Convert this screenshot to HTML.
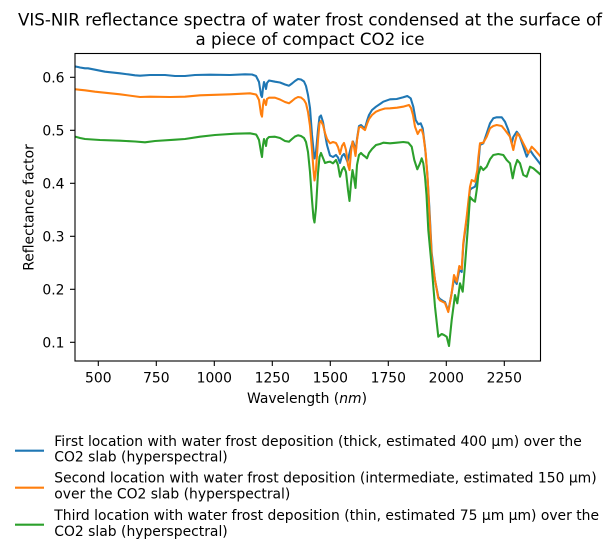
<!DOCTYPE html>
<html>
<head>
<meta charset="utf-8">
<style>
  html, body { margin: 0; padding: 0; background: #ffffff; }
  svg { display: block; }
  text { font-family: "DejaVu Sans", "Liberation Sans", sans-serif; fill: #000; }
</style>
</head>
<body>
<svg width="614" height="555" viewBox="0 0 614 555" xmlns="http://www.w3.org/2000/svg">
  <rect x="0" y="0" width="614" height="555" fill="#ffffff"/>

  <!-- Title -->
  <text x="310" y="25.5" font-size="16.67" text-anchor="middle">VIS-NIR reflectance spectra of water frost condensed at the surface of</text>
  <text x="310" y="45" font-size="16.67" text-anchor="middle">a piece of compact CO2 ice</text>

  <defs>
    <clipPath id="ax">
      <rect x="75" y="53.5" width="465.5" height="307.5"/>
    </clipPath>
  </defs>

  <g clip-path="url(#ax)" fill="none" stroke-width="2.08" stroke-linejoin="round" stroke-linecap="square">
    <!-- Blue -->
    <polyline stroke="#1f77b4" points="75.5,66.5 78,67 80,67.5 85,68.3 88,68.3 95,69.7 105,71.7 120,73.3 135,75.3 140,75.7 150,75 165,75 175,76 185,76 195,75 210,74.7 230,75 245,74.3 252,74.5 256,76 257,78 259,82 261,95 262,97 263,88 264,82 265,85 266,89 267,83 269,80.5 275,81.7 280,82.5 285,84.5 289,85.7 292,83.5 295,81 298,79 301,79.5 304,81.5 306,86 308,95 310,108 312,135 313.5,150 314.5,158.5 316,152 318,130 319.5,117 321,115.5 323,122 325,134 327,145 330,155.5 333,157 336,155 338,157.5 340,163 342,156 344,154 346,158 347.5,162 349,155 351,147 353,141.5 354.5,146 355.5,154 357,139 359,126 361,125 363,127 365,128 367,121 369,115 372,110 376,106.7 380,104 383.3,101.7 390,99.3 396.7,99 403.3,97.3 407.3,96 410.7,98.3 413.3,106.7 415.7,120 418.3,124.3 420.7,123.3 422.7,128.3 425,146.7 427.3,173.3 429.5,210 431.7,253 435,280 438.3,297 440,299 443,301 445,302 448.3,311 451.7,293 454,279 456.7,284 459.3,270 461.7,272 463.3,245 466.7,219 470,190 471.7,188.3 475,186.7 477.3,180 478.3,165 480,145 483.3,143.3 486.7,133.3 490,123.3 493.3,118.3 496.7,117.3 501.7,117.3 505,121.7 508.3,130 511.7,143.3 513.3,137 516.7,131.7 519.3,135 523.3,146.7 526.7,156.7 530,150 533.3,155 541,165"/>
    <!-- Orange -->
    <polyline stroke="#ff7f0e" points="75.5,89.3 80,89.8 85,90.3 95,91.7 120,94.3 140,97 150,96.7 170,97 185,96.7 200,95.3 230,94.3 250,93.3 256,94.5 257,96 259,100 261,114 262,116.7 263,105 264,99.5 265,102 266,105 267,99 269,97.7 275,97.7 280,99.5 285,102 289,103.3 292,101 295,98.5 298,97 301,97.5 304,100 306,103.5 308,112 310,126 312,150 313.5,170 314.5,180.5 316,170 318,140 319.5,123 321,121 323,125 325,133 327,139 330,143.3 333,142 336,143 338,147 340,154 342,146 344,143 346,150 348,165 349.5,170 351,152 352.5,141.5 354,147 355.5,156 357,140 359,127.5 361,126.7 363,128.5 365,130 367,124 369,119 372,115 376,111.7 380,110 385,108.5 390,108.3 397,107.7 403,106.7 409,105 411,108 413,115 415,126.7 417.7,134 420,130 421.7,129.5 423.3,135 425.7,153 427.7,180 429.5,215 431.7,256.7 435,280 438.3,298.3 440,300.5 443,302 445,303 448.3,312 451.7,293 454,275 456.7,281.7 459.3,266 461.7,269 463.3,243 466.7,216.7 470,186.7 471.7,180 475,181.7 477.3,170 478.3,158 480,143.3 483.3,142.7 486.7,136.7 490,128.3 493.3,126 496.7,125 501.7,126 505,130 510,136.7 513.3,150 515,141.7 517.3,133.3 520,136.7 523.3,143.3 526.7,150 528.3,153.3 531.7,146.7 535,150 541,157"/>
    <!-- Green -->
    <polyline stroke="#2ca02c" points="75.5,136.7 80,138 85,139 100,140 120,140.7 135,141.5 145,142.3 155,141 175,139.7 185,139 200,136.7 215,135 235,133.7 250,133.3 256,134.5 257,136 259,140 261,152 262,157 263,145 264,139 265,142 266,146 267,139 269,137 275,136.7 280,138 285,141 289,141.7 292,139 295,136.5 298,135.3 301,136 304,138 306,142 308,152 310,172 312,200 313.5,218 314.5,222.5 316,208 318,173 319.5,157 321,153 323,158 325,163 328,162 330,161.7 333,163.3 336,160 338,165 340,176.7 342,170 344,167 346,172 348,190 349.5,201 351,183 352.5,170 354,178 355.5,188 357,165 359,155 361,153 363,155 365,156.5 367,158.3 369,153 372,149 376,145 380,144 383.3,142.7 390,143.3 396.7,142.7 403.3,142 408.3,142.7 411.7,146.7 414.3,160 417.3,169.3 420,163.3 421.7,158.3 423.3,163.3 425,176.7 426.5,195 428.3,230 431.7,266.7 435,306.7 438.3,336.7 441.7,334 444,335 446.7,336.7 449,346 451.7,320 455,295 457.3,303.3 460,283.3 462.7,291.7 465,265 468.3,222 470,197 472.7,200 475,201.7 477,188 478.3,175 480.7,166.7 483.3,170 486.7,166.7 490,159.3 493.3,155 498.3,154 503.3,155 506.7,160 510,163.3 512.7,178.3 515,166.7 517.3,160 520,163.3 523.3,175 526.7,176.7 530,166.7 533.3,168.3 541,175"/>
  </g>

  <!-- Axes frame -->
  <rect x="75" y="53.5" width="465.5" height="307.5" fill="none" stroke="#000" stroke-width="1.1"/>

  <!-- X ticks -->
  <g stroke="#000" stroke-width="1.1">
    <line x1="98.3" y1="361" x2="98.3" y2="366"/>
    <line x1="156.3" y1="361" x2="156.3" y2="366"/>
    <line x1="214.3" y1="361" x2="214.3" y2="366"/>
    <line x1="272.3" y1="361" x2="272.3" y2="366"/>
    <line x1="330.3" y1="361" x2="330.3" y2="366"/>
    <line x1="388.3" y1="361" x2="388.3" y2="366"/>
    <line x1="446.3" y1="361" x2="446.3" y2="366"/>
    <line x1="504.3" y1="361" x2="504.3" y2="366"/>
  </g>
  <g font-size="13.9" text-anchor="middle">
    <text x="98.3" y="382.5">500</text>
    <text x="156.3" y="382.5">750</text>
    <text x="214.3" y="382.5">1000</text>
    <text x="272.3" y="382.5">1250</text>
    <text x="330.3" y="382.5">1500</text>
    <text x="388.3" y="382.5">1750</text>
    <text x="446.3" y="382.5">2000</text>
    <text x="504.3" y="382.5">2250</text>
  </g>

  <!-- Y ticks -->
  <g stroke="#000" stroke-width="1.1">
    <line x1="70" y1="77.3" x2="75" y2="77.3"/>
    <line x1="70" y1="130.3" x2="75" y2="130.3"/>
    <line x1="70" y1="183.3" x2="75" y2="183.3"/>
    <line x1="70" y1="236.3" x2="75" y2="236.3"/>
    <line x1="70" y1="289.3" x2="75" y2="289.3"/>
    <line x1="70" y1="342.3" x2="75" y2="342.3"/>
  </g>
  <g font-size="13.9" text-anchor="end">
    <text x="64.5" y="82.3">0.6</text>
    <text x="64.5" y="135.3">0.5</text>
    <text x="64.5" y="188.3">0.4</text>
    <text x="64.5" y="241.3">0.3</text>
    <text x="64.5" y="294.3">0.2</text>
    <text x="64.5" y="347.3">0.1</text>
  </g>

  <!-- Axis labels -->
  <text x="307" y="403" font-size="13.9" text-anchor="middle">Wavelength (<tspan font-style="italic">nm</tspan>)</text>
  <text transform="translate(33.3,207.5) rotate(-90)" font-size="13.9" text-anchor="middle">Reflectance factor</text>

  <!-- Legend -->
  <g stroke-width="2.08">
    <line x1="15" y1="450.7" x2="44" y2="450.7" stroke="#1f77b4"/>
    <line x1="15" y1="487.7" x2="44" y2="487.7" stroke="#ff7f0e"/>
    <line x1="15" y1="524.7" x2="44" y2="524.7" stroke="#2ca02c"/>
  </g>
  <g font-size="13.9">
    <text x="54.3" y="446">First location with water frost deposition (thick, estimated 400 µm) over the</text>
    <text x="54.3" y="461.7">CO2 slab (hyperspectral)</text>
    <text x="54.3" y="482.5">Second location with water frost deposition (intermediate, estimated 150 µm)</text>
    <text x="54.3" y="498.3">over the CO2 slab (hyperspectral)</text>
    <text x="54.3" y="520">Third location with water frost deposition (thin, estimated 75 µm µm) over the</text>
    <text x="54.3" y="536">CO2 slab (hyperspectral)</text>
  </g>
</svg>
</body>
</html>
